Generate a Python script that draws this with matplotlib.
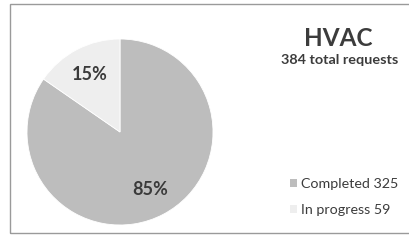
import matplotlib.pyplot as plt
from matplotlib.patches import Rectangle, Patch

plt.rcParams['font.family'] = ['Lato', 'DejaVu Sans']

# data
labels = ['Completed', 'In progress']
counts = [325, 59]
colors = ['#bdbdbd', '#eeeeee']
title = 'HVAC'
subtitle = f'{sum(counts)} total requests'

W, H = 409, 245
fig = plt.figure(figsize=(W / 100, H / 100), dpi=100)
fig.patch.set_facecolor('white')

# outer frame
fig.add_artist(Rectangle((10 / W, 1 - 233 / H), 1.0, 229 / H, transform=fig.transFigure,
                         fill=False, edgecolor='#9a9a9a', linewidth=1.0))

# pie: centre (120, 132) px, radius 93 px
cx, cy, r = 120, 132, 93
ax = fig.add_axes([(cx - r) / W, (H - cy - r) / H, 2 * r / W, 2 * r / H])
wedges, texts, autotexts = ax.pie(counts, colors=colors, startangle=90, counterclock=False,
                                  autopct='%1.0f%%', pctdistance=0.7,
                                  wedgeprops=dict(edgecolor='white', linewidth=0.6),
                                  textprops=dict(fontsize=13, fontweight='bold', color='#3a3a3a'))
ax.set_xlim(-1, 1)
ax.set_ylim(-1, 1)
ax.set_aspect('equal')

fig.text(338 / W, 1 - 39 / H, title, ha='center', va='center', fontsize=17.5,
         fontweight='bold', color='#3c3c3c')
fig.text(340 / W, 1 - 60 / H, subtitle, ha='center', va='center', fontsize=10.4,
         fontweight='bold', color='#3c3c3c')

handles = [Patch(facecolor=c, edgecolor='none') for c in colors]
leg_labels = [f'{l} {n}' for l, n in zip(labels, counts)]
fig.legend(handles, leg_labels, loc='center left', bbox_to_anchor=(277 / W, 1 - 197 / H),
           frameon=False, fontsize=10.3, handlelength=0.5, handleheight=0.5,
           handletextpad=0.25, labelspacing=0.95, labelcolor='#3c3c3c')

fig.savefig('out.png', dpi=100)
